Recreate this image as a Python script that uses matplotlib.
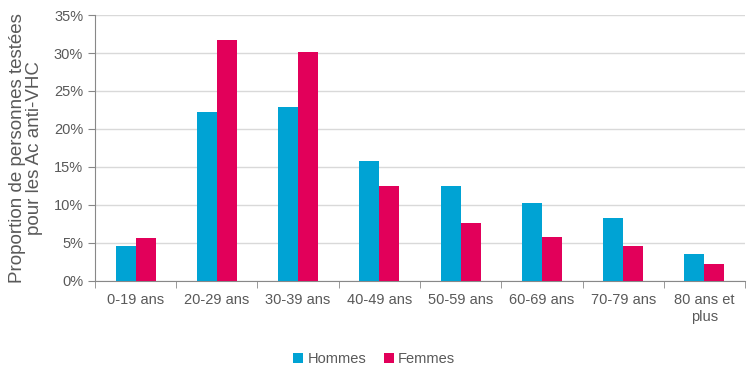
import matplotlib.pyplot as plt
import numpy as np
from matplotlib.ticker import PercentFormatter

categories = ['0-19 ans', '20-29 ans', '30-39 ans', '40-49 ans', '50-59 ans',
              '60-69 ans', '70-79 ans', '80 ans et\nplus']
hommes = [4.6, 22.2, 22.9, 15.8, 12.5, 10.3, 8.3, 3.5]
femmes = [5.7, 31.7, 30.1, 12.5, 7.6, 5.8, 4.6, 2.2]

blue = '#00A3D4'
red = '#E2005A'
grey = '#595959'

plt.rcParams['font.family'] = ['Liberation Sans', 'DejaVu Sans']

fig = plt.figure(figsize=(7.48, 3.76), dpi=100)
ax = fig.add_axes([0.127, 0.253, 0.869, 0.707])

x = np.arange(len(categories))
w = 0.245
ax.bar(x - w / 2, hommes, w, color=blue, label='Hommes', zorder=3)
ax.bar(x + w / 2, femmes, w, color=red, label='Femmes', zorder=3)

ax.set_xlim(-0.5, len(categories) - 0.5)
ax.set_ylim(0, 35)
ax.set_yticks(range(0, 36, 5))
ax.yaxis.set_major_formatter(PercentFormatter(decimals=0))
ax.grid(axis='y', color='#D9D9D9', linewidth=1, zorder=0)

ax.set_xticks(x)
ax.set_xticklabels(categories, fontsize=10.5, color=grey)
ax.set_xticks(np.arange(-0.5, len(categories)), minor=True)
ax.tick_params(axis='x', which='major', length=0, pad=9)
ax.tick_params(axis='x', which='minor', length=5, color='#888888', direction='out')
ax.tick_params(axis='y', length=5, color='#888888', labelsize=10.5, labelcolor=grey)

for s in ['top', 'right']:
    ax.spines[s].set_visible(False)
for s in ['left', 'bottom']:
    ax.spines[s].set_color('#888888')

ax.set_ylabel('Proportion de personnes testées\npour les Ac anti-VHC', fontsize=13.5,
              color=grey, linespacing=1.0, labelpad=8)

fig.legend(*ax.get_legend_handles_labels(), loc='center', bbox_to_anchor=(0.5, 0.045),
           ncol=2, frameon=False, fontsize=10.5, labelcolor=grey, handlelength=0.7,
           handleheight=0.7, handletextpad=0.3, columnspacing=1.2)

fig.savefig('out.png', dpi=100)
